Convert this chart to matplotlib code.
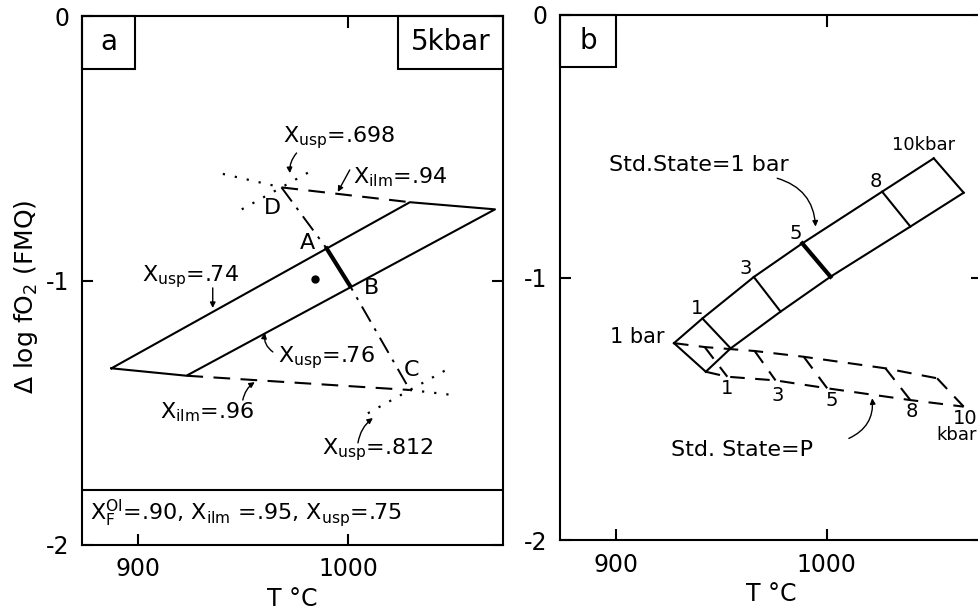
import matplotlib
matplotlib.use("Agg")
import matplotlib.pyplot as plt
from matplotlib.patches import Rectangle

plt.rcParams['font.family'] = ['DejaVu Sans']
plt.rcParams['mathtext.default'] = 'regular'

# ---------------- Panel a data ----------------
# parallelogram (Xusp=.74 upper line, Xusp=.76 lower line)
para_T = [887.5, 1029.5, 1070.0, 923.2, 887.5]
para_y = [-1.332, -0.704, -0.731, -1.360, -1.332]
# Xilm = .94 (dashed) and its dotted extension
ilm94_T = [968.4, 1029.5]
ilm94_y = [-0.648, -0.704]
ilm94_dot_T = [940.5, 968.4]
ilm94_dot_y = [-0.597, -0.648]
# Xilm = .96 (dashed) and dotted extension
ilm96_T = [923.2, 1029.5]
ilm96_y = [-1.360, -1.414]
ilm96_dot_T = [1029.5, 1050.0]
ilm96_dot_y = [-1.414, -1.433]
# Xusp = .698 and .812 (dotted)
usp698_T = [949.5, 982.9]
usp698_y = [-0.731, -0.584]
usp812_T = [1009.5, 1049.5]
usp812_y = [-1.502, -1.326]
# dash-dot line D-A-B-C
dabc_T = [968.4, 989.9, 1001.0, 1029.5]
dabc_y = [-0.648, -0.879, -1.020, -1.414]
# thick segment A-B
ab_T = [989.9, 1001.0]
ab_y = [-0.879, -1.020]
# sample point
pt_T = [984.3]
pt_y = [-0.996]
box_line_a = -1.792

# ---------------- Panel b data ----------------
pressures = ['1 bar', '1', '3', '5', '8', '10']
up_T = [927.6, 941.1, 965.5, 988.5, 1026.4, 1050.9]
up_y = [-1.250, -1.156, -0.998, -0.870, -0.673, -0.546]
lo_T = [942.7, 954.5, 978.2, 1001.9, 1039.8, 1065.1]
lo_y = [-1.359, -1.270, -1.130, -0.997, -0.806, -0.677]
dup_T = [927.6, 942.2, 965.9, 989.2, 1028.0, 1052.5]
dup_y = [-1.250, -1.265, -1.280, -1.302, -1.346, -1.384]
dlo_T = [942.7, 952.9, 975.8, 1000.3, 1039.8, 1065.1]
dlo_y = [-1.359, -1.378, -1.392, -1.422, -1.467, -1.492]

xticks = [900, 1000]
top_ticks = [1000]
yticks = [-2, -1, 0]
yticklabels = ['-2', '-1', '0']
xlim = (873.5, 1073.8)
ylim = (-2, 0)

W, H = 979, 610
fig = plt.figure(figsize=(W / 100, H / 100), dpi=100)
axa = fig.add_axes([82 / W, (H - 545) / H, 421 / W, 529 / H])
axb = fig.add_axes([560 / W, (H - 540) / H, 422 / W, 525 / H])

LW = 1.5
for ax in (axa, axb):
    ax.set_xlim(*xlim)
    ax.set_ylim(*ylim)
    for s in ax.spines.values():
        s.set_linewidth(1.5)
    ax.set_xticks(xticks)
    ax.set_xticklabels([str(t) for t in xticks])
    ax.set_yticks(yticks)
    ax.set_yticklabels(yticklabels)
    ax.tick_params(direction='in', length=8, width=1.5, labelsize=17,
                   top=False, right=True, pad=9)
    for t in top_ticks:
        ax.axvline(t, ymin=0.98, ymax=1.0, color='k', lw=1.5)
    ax.set_xlabel('T °C', fontsize=17, labelpad=4)

# ---- Panel a ----
ax = axa
ax.plot(para_T, para_y, color='k', lw=LW)
ax.plot(ilm94_T, ilm94_y, color='k', lw=LW, dashes=(8, 5))
ax.plot(ilm96_T, ilm96_y, color='k', lw=LW, dashes=(8, 5))
for T, y in ((ilm94_dot_T, ilm94_dot_y), (ilm96_dot_T, ilm96_dot_y),
             (usp698_T, usp698_y), (usp812_T, usp812_y)):
    ax.plot(T, y, color='k', lw=1.6, dashes=(1, 4.5))
ax.plot(dabc_T, dabc_y, color='k', lw=1.4, dashes=(9, 4, 1.5, 4))
ax.plot(ab_T, ab_y, color='k', lw=3)
ax.plot(pt_T, pt_y, 'o', color='k', ms=5)
ax.axhline(box_line_a, color='k', lw=1.5)
ax.add_patch(Rectangle((0, 0.9), 0.126, 0.1, transform=ax.transAxes,
                       fill=False, lw=1.5, clip_on=False))
ax.add_patch(Rectangle((0.75, 0.9), 0.25, 0.1, transform=ax.transAxes,
                       fill=False, lw=1.5, clip_on=False))
ax.text(0.063, 0.95, 'a', transform=ax.transAxes, ha='center', va='center', fontsize=20)
ax.text(0.875, 0.95, '5kbar', transform=ax.transAxes, ha='center', va='center', fontsize=20)
ax.set_ylabel('Δ log fO$_2$ (FMQ)', fontsize=18)
ax.yaxis.set_label_coords(-0.10, 0.47)

fs = 16
ax.text(969, -0.461, 'X$_{usp}$=.698', fontsize=fs, ha='left', va='center')
ax.text(1002.4, -0.609, 'X$_{ilm}$=.94', fontsize=fs, ha='left', va='center')
ax.text(964.3, -0.726, 'D', fontsize=fs, ha='center', va='center')
ax.text(980.9, -0.858, 'A', fontsize=fs, ha='center', va='center')
ax.text(1011.4, -1.028, 'B', fontsize=fs, ha='center', va='center')
ax.text(1030.5, -1.338, 'C', fontsize=fs, ha='center', va='center')
ax.text(901.9, -0.987, 'X$_{usp}$=.74', fontsize=fs, ha='left', va='center')
ax.text(966.7, -1.293, 'X$_{usp}$=.76', fontsize=fs, ha='left', va='center')
ax.text(910.5, -1.497, 'X$_{ilm}$=.96', fontsize=fs, ha='left', va='center')
ax.text(987.6, -1.641, 'X$_{usp}$=.812', fontsize=fs, ha='left', va='center')
ax.text(877.1, -1.879, 'X$_F^{Ol}$=.90, X$_{ilm}$ =.95, X$_{usp}$=.75',
        fontsize=fs, ha='left', va='center')

arrows_a = [((975.6, -0.518), (972.4, -0.594), 0.2),
            ((1000.9, -0.582), (995.2, -0.665), 0.0),
            ((935.7, -1.028), (935.7, -1.104), 0.0),
            ((964.3, -1.270), (960.5, -1.198), -0.3),
            ((950.0, -1.452), (955.7, -1.384), -0.2),
            ((1004.8, -1.614), (1011.9, -1.520), -0.2)]
for (x0, y0), (x1, y1), rad in arrows_a:
    ax.annotate('', xy=(x1, y1), xytext=(x0, y0),
                arrowprops=dict(arrowstyle='-|>', color='k', lw=1.0,
                                mutation_scale=8,
                                connectionstyle=f'arc3,rad={rad}',
                                shrinkA=0, shrinkB=0))

# ---- Panel b ----
ax = axb
ax.plot(up_T, up_y, color='k', lw=LW)
ax.plot(lo_T, lo_y, color='k', lw=LW)
for i in range(len(pressures)):
    ax.plot([up_T[i], lo_T[i]], [up_y[i], lo_y[i]], color='k',
            lw=3 if pressures[i] == '5' else LW)
ax.plot(dup_T, dup_y, color='k', lw=LW, dashes=(7, 5))
ax.plot(dlo_T, dlo_y, color='k', lw=LW, dashes=(7, 5))
for i in range(1, len(pressures)):
    ax.plot([dup_T[i], dlo_T[i]], [dup_y[i], dlo_y[i]], color='k',
            lw=LW, dashes=(7, 5))
ax.add_patch(Rectangle((0, 0.901), 0.133, 0.099, transform=ax.transAxes,
                       fill=False, lw=1.5, clip_on=False))
ax.text(0.066, 0.95, 'b', transform=ax.transAxes, ha='center', va='center', fontsize=20)

ax.text(896.8, -0.571, 'Std.State=1 bar', fontsize=fs, ha='left', va='center')
ax.text(1046.1, -0.495, '10kbar', fontsize=13, ha='center', va='center')
up_lbl = [('1', 938.7, -1.117), ('3', 961.6, -0.965), ('5', 985.3, -0.832), ('8', 1023.2, -0.635)]
for s, x, y in up_lbl:
    ax.text(x, y, s, fontsize=14, ha='center', va='center')
ax.text(910.3, -1.226, '1 bar', fontsize=15, ha='center', va='center')
lo_lbl = [('1', 952.9, -1.422), ('3', 976.6, -1.448), ('5', 1002.7, -1.467),
          ('8', 1040.6, -1.511), ('10', 1066.0, -1.536)]
for s, x, y in lo_lbl:
    ax.text(x, y, s, fontsize=14, ha='center', va='center')
ax.text(1061.9, -1.600, 'kbar', fontsize=13, ha='center', va='center')
ax.text(926.1, -1.657, 'Std. State=P', fontsize=fs, ha='left', va='center')

ax.annotate('', xy=(994.8, -0.806), xytext=(976.6, -0.622),
            arrowprops=dict(arrowstyle='-|>', color='k', lw=1.0, mutation_scale=8,
                            connectionstyle='arc3,rad=-0.35', shrinkA=0, shrinkB=0))
ax.annotate('', xy=(1021.7, -1.460), xytext=(1010.6, -1.613),
            arrowprops=dict(arrowstyle='-|>', color='k', lw=1.0, mutation_scale=8,
                            connectionstyle='arc3,rad=0.35', shrinkA=0, shrinkB=0))

fig.savefig('out.png', dpi=100)
